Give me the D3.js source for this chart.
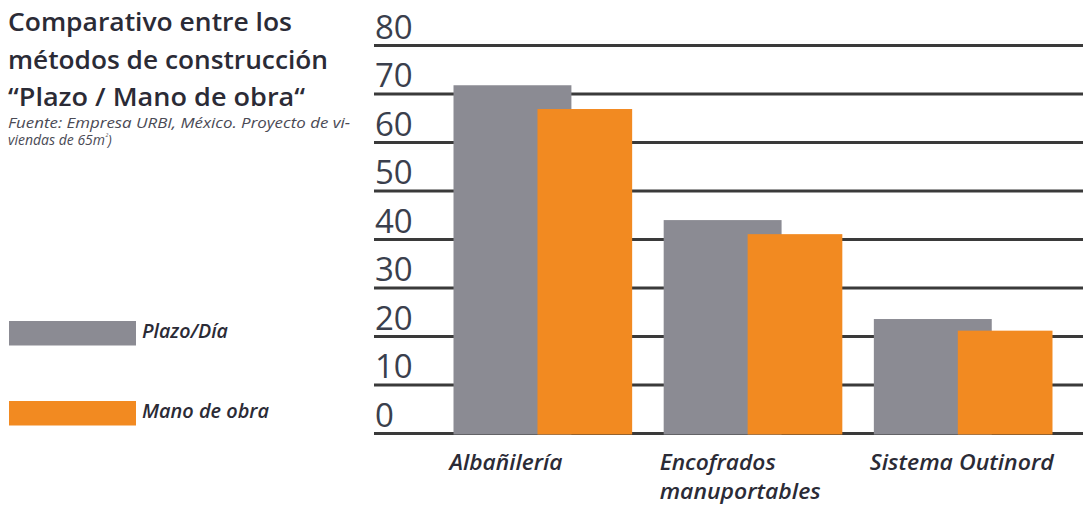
<!DOCTYPE html>
<html>
<head>
<meta charset="utf-8">
<script src="https://cdn.jsdelivr.net/npm/d3@7/dist/d3.min.js"></script>
<style>
  html, body { margin: 0; padding: 0; background: #fff; }
  svg { display: block; }
  text { font-family: "Open Sans", "Noto Sans", sans-serif; }
</style>
</head>
<body>
<svg id="chart" width="1083" height="506"></svg>
<script>
// ---- data ----
const categories = ["Albañilería", "Encofrados manuportables", "Sistema Outinord"];
const categoryLines = [["Albañilería"], ["Encofrados", "manuportables"], ["Sistema Outinord"]];
const seriesNames = ["Plazo/Día", "Mano de obra"];
const plazoDia = [71.7, 43.9, 23.5];
const manoDeObra = [66.8, 41.0, 21.1];
const yTicks = [0, 10, 20, 30, 40, 50, 60, 70, 80];
const titleLines = ["Comparativo entre los", "métodos de construcción", "“Plazo / Mano de obra“"];
const sourceLine1 = "Fuente: Empresa URBI, México. Proyecto de vi-";
const sourceLine2 = ["viendas de 65m", "²", ")"];

// ---- layout ----
const W = 1083, H = 506;
const colors = ["#8b8b93", "#f28a21"];
const svg = d3.select("#chart");

// fit helper: squeeze text horizontally to a target width if needed
function fit(sel, target) {
  sel.each(function () {
    const w = this.getComputedTextLength();
    if (Math.abs(w - target) > 1) {
      d3.select(this).attr("textLength", target).attr("lengthAdjust", "spacingAndGlyphs");
    }
  });
}

const y = d3.scaleLinear().domain([0, 80]).range([433, 45]);
const x = d3.scaleBand().domain(categories).range([443, 1063]).paddingInner(0.15).paddingOuter(0.05);
const gridX0 = 374, gridX1 = W;

// gridlines + tick labels via axis
const yAxis = d3.axisLeft(y).tickValues(yTicks).tickSize(-(gridX1 - gridX0)).tickFormat(d3.format("d"));
const gAxis = svg.append("g").attr("transform", `translate(${gridX0},0)`).call(yAxis);
gAxis.select(".domain").remove();
gAxis.selectAll(".tick line").attr("stroke", "#3a3a3a").attr("stroke-width", 3);
gAxis.selectAll(".tick text")
  .attr("x", 1).attr("dy", -7).attr("text-anchor", "start")
  .attr("font-size", 33).attr("font-weight", 400)
  .attr("fill", "#3a3f4d")
  .style("font-family", "'Open Sans', sans-serif");

// bars
const bw = x.bandwidth();
const barSpec = [
  { values: plazoDia, x0: 0, x1: 0.66 },
  { values: manoDeObra, x0: 0.47, x1: 1.0 }
];
barSpec.forEach((s, si) => {
  svg.append("g").selectAll("rect")
    .data(categories.map((c, i) => ({ c, v: s.values[i] })))
    .join("rect")
    .attr("x", d => x(d.c) + s.x0 * bw)
    .attr("width", (s.x1 - s.x0) * bw)
    .attr("y", d => y(d.v))
    .attr("height", d => y(0) - y(d.v) + 1.5)
    .attr("fill", colors[si]);
});

// category labels (multi-line labels as one text with tspans)
const catG = svg.append("g");
const catWidths = [[113], [116, 161], [184]];
categories.forEach((c, i) => {
  const t = catG.append("text")
    .attr("font-size", 21).attr("font-style", "italic").attr("font-weight", 600)
    .attr("fill", "#2b2b36");
  categoryLines[i].forEach((line, j) => {
    const ts = t.append("tspan")
      .attr("x", x(c) - 4)
      .attr("y", 469.5 + j * 29)
      .text(line);
    fit(ts, catWidths[i][j]);
  });
});

// title
const titleWidths = [284, 320, 297];
titleLines.forEach((line, i) => {
  const t = svg.append("text")
    .attr("x", 8).attr("y", 31 + i * 37.5)
    .attr("font-size", 25).attr("font-weight", 600)
    .attr("fill", "#2b2b36")
    .text(line);
  fit(t, titleWidths[i]);
});

// source
const s1 = svg.append("text")
  .attr("x", 8).attr("y", 128)
  .attr("font-size", 14).attr("font-style", "italic").attr("font-weight", 400)
  .attr("fill", "#4a4a55")
  .text(sourceLine1);
fit(s1, 342);
const s2 = svg.append("text")
  .attr("x", 8).attr("y", 145)
  .attr("font-size", 14).attr("font-style", "italic").attr("font-weight", 400)
  .attr("fill", "#4a4a55");
s2.append("tspan").text(sourceLine2[0]);
s2.append("tspan").attr("font-size", 8).attr("dy", -5).text(sourceLine2[1]);
s2.append("tspan").attr("dy", 5).text(sourceLine2[2]);

// legend
const legY = [321, 401];
const legWidths = [86, 127];
seriesNames.forEach((name, i) => {
  svg.append("rect")
    .attr("x", 9).attr("y", legY[i]).attr("width", 127).attr("height", 24.5)
    .attr("fill", colors[i]);
  const t = svg.append("text")
    .attr("x", 142).attr("y", legY[i] + 16.5)
    .attr("font-size", 19).attr("font-style", "italic").attr("font-weight", 600)
    .attr("fill", "#2b2b36")
    .text(name);
  fit(t, legWidths[i]);
});
</script>
</body>
</html>
